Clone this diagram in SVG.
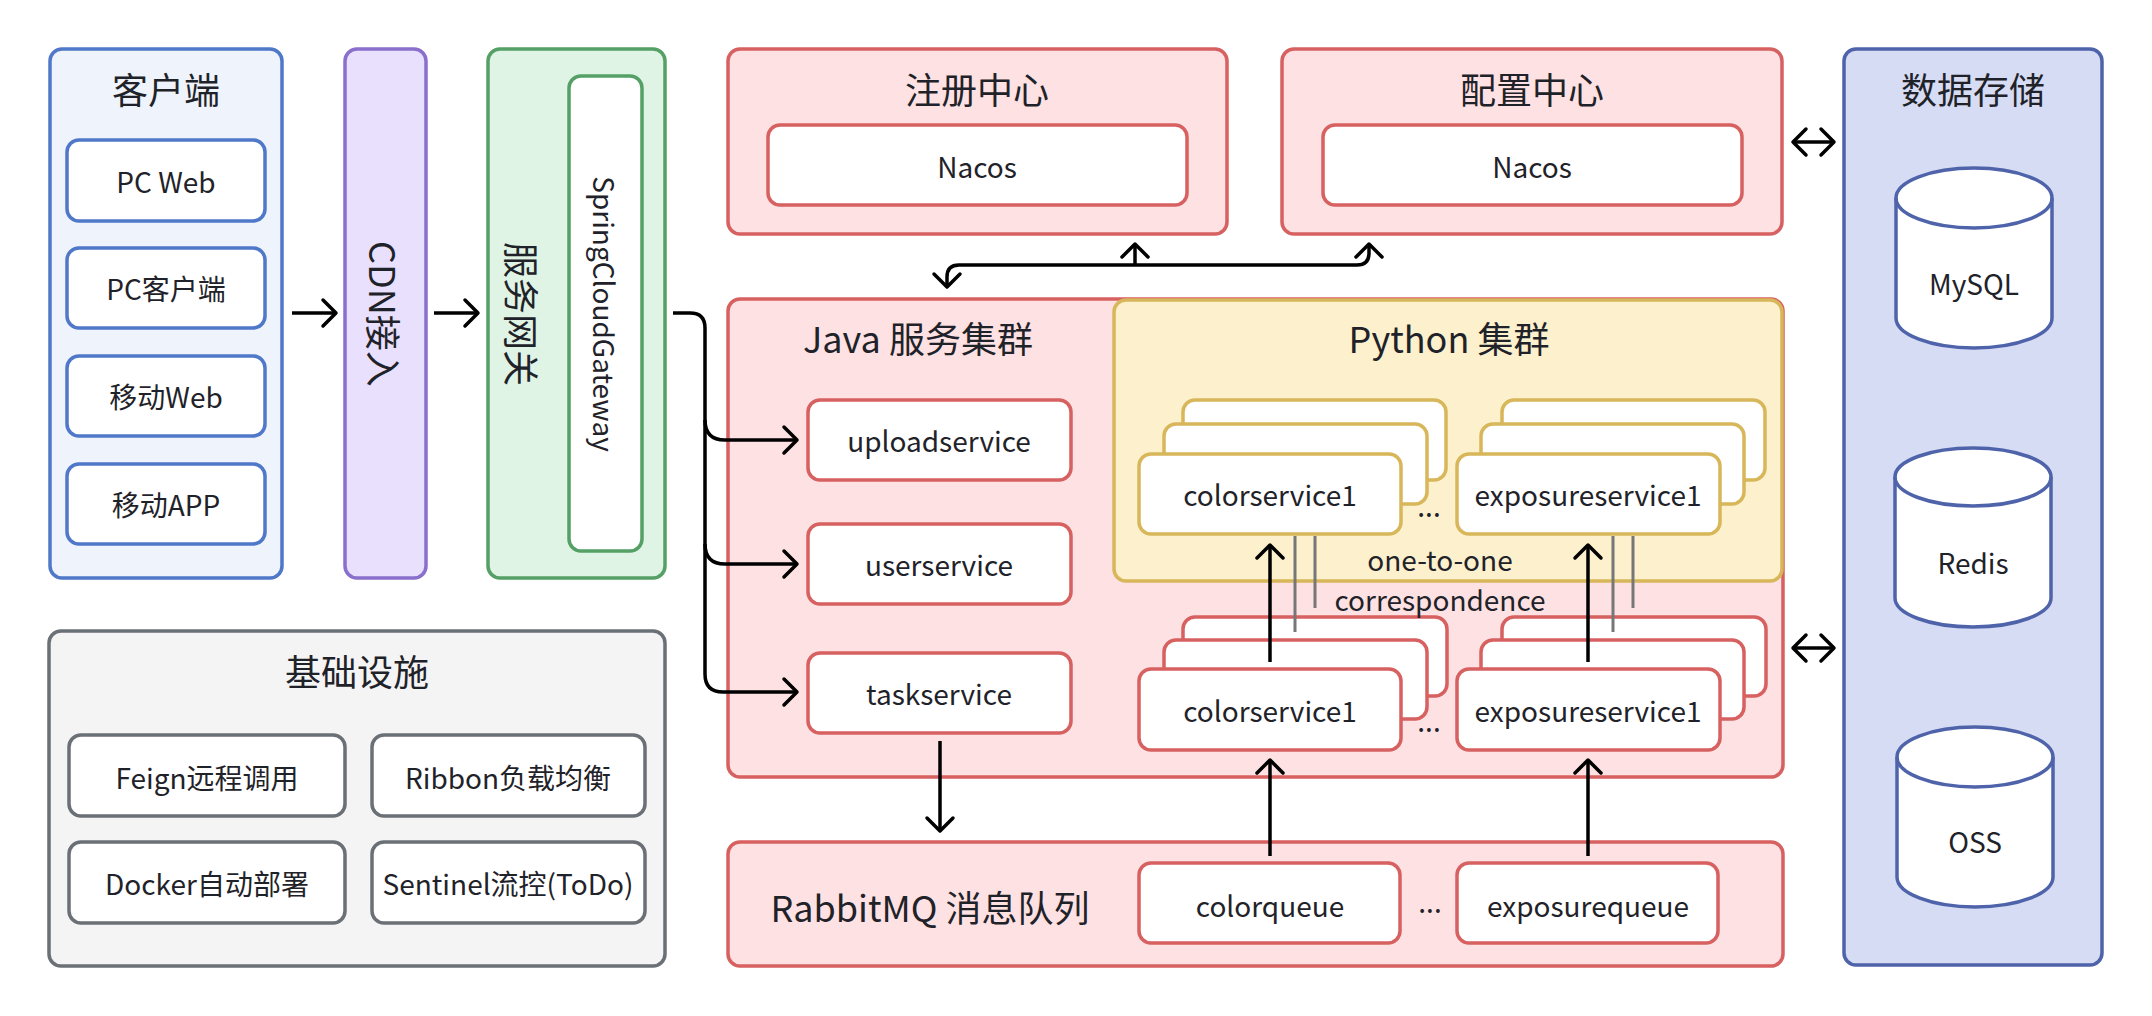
<svg xmlns="http://www.w3.org/2000/svg" width="2152" height="1016" viewBox="0 0 2152 1016">
<defs>
<style>
text{font-family:"Noto Sans CJK SC","Noto Sans",sans-serif;fill:#1f2329;text-anchor:middle;dominant-baseline:central}
.t{font-size:36px}
.n{font-size:28px}
.w{fill:#ffffff;stroke-width:3.5}
.blue{fill:#eef3fc;stroke:#5078c8;stroke-width:3.5}
.purple{fill:#e9e0fd;stroke:#8b6fcc;stroke-width:3.5}
.green{fill:#dff4e5;stroke:#55a066;stroke-width:3.5}
.red{fill:#fee1e2;stroke:#d76060;stroke-width:3.5}
.yellow{fill:#fdf0cd;stroke:#d8b65a;stroke-width:3.5}
.gray{fill:#f4f4f4;stroke:#6b6f76;stroke-width:3.5}
.db{fill:#d6dcf4;stroke:#4f63aa;stroke-width:3.5}
.bs{stroke:#5078c8}.gs{stroke:#55a066}.rs{stroke:#d76060}.ys{stroke:#d8b65a}.ks{stroke:#6b6f76}.ds{stroke:#4f63aa}
.c{fill:none;stroke:#000;stroke-width:3.5;stroke-linejoin:round}
.g{stroke:#777777;stroke-width:3;fill:none}
.dots{dominant-baseline:alphabetic;font-size:28px}
</style>
<marker id="arr" viewBox="-16 -16 20 32" markerWidth="20" markerHeight="32" refX="0" refY="0" orient="auto-start-reverse" markerUnits="userSpaceOnUse">
<path d="M-13,-13 L0,0 L-13,13" fill="none" stroke="#000" stroke-width="3.5" stroke-linecap="round" stroke-linejoin="round"/>
</marker>
</defs>
<rect width="2152" height="1016" fill="#ffffff"/>

<g id="client">
<rect class="blue" x="50" y="49" width="232" height="529" rx="12"/>
<text class="t" x="166" y="88">客户端</text>
<rect class="w bs" x="67" y="140" width="198" height="81" rx="12"/>
<text class="n" x="166" y="181">PC Web</text>
<rect class="w bs" x="67" y="248" width="198" height="80" rx="12"/>
<text class="n" x="166" y="288">PC客户端</text>
<rect class="w bs" x="67" y="356" width="198" height="80" rx="12"/>
<text class="n" x="166" y="396">移动Web</text>
<rect class="w bs" x="67" y="464" width="198" height="80" rx="12"/>
<text class="n" x="166" y="504">移动APP</text>
</g>

<g id="cdn">
<rect class="purple" x="345" y="49" width="81" height="529" rx="12"/>
<text class="t" x="385" y="314" transform="rotate(90 385 314)">CDN接入</text>
</g>

<g id="gateway">
<rect class="green" x="488" y="49" width="177" height="529" rx="12"/>
<text class="t" x="523" y="314" transform="rotate(90 523 314)">服务网关</text>
<rect class="w gs" x="569" y="76" width="73" height="475" rx="12"/>
<text class="n" x="605" y="314" transform="rotate(90 605 314)">SpringCloudGateway</text>
</g>

<g id="registry">
<rect class="red" x="728" y="49" width="499" height="185" rx="12"/>
<text class="t" x="977" y="88">注册中心</text>
<rect class="w rs" x="768" y="125" width="419" height="80" rx="12"/>
<text class="n" x="977" y="166">Nacos</text>
</g>

<g id="config">
<rect class="red" x="1282" y="49" width="500" height="185" rx="12"/>
<text class="t" x="1532" y="88">配置中心</text>
<rect class="w rs" x="1323" y="125" width="419" height="80" rx="12"/>
<text class="n" x="1532" y="166">Nacos</text>
</g>

<g id="java">
<rect class="red" x="728" y="299" width="1055" height="478" rx="12"/>
<text class="t" x="918" y="337">Java 服务集群</text>
<rect class="w rs" x="808" y="400" width="263" height="80" rx="12"/>
<text class="n" x="939" y="440">uploadservice</text>
<rect class="w rs" x="808" y="524" width="263" height="80" rx="12"/>
<text class="n" x="939" y="564">userservice</text>
<rect class="w rs" x="808" y="653" width="263" height="80" rx="12"/>
<text class="n" x="939" y="693">taskservice</text>
</g>

<g id="python">
<rect class="yellow" x="1114" y="300" width="668" height="281" rx="12"/>
<text class="t" x="1449" y="337">Python 集群</text>
<rect class="w ys" x="1183" y="400" width="263" height="80" rx="12"/>
<rect class="w ys" x="1164" y="424" width="263" height="80" rx="12"/>
<rect class="w ys" x="1139" y="454" width="262" height="80" rx="12"/>
<text class="n" x="1270" y="494">colorservice1</text>
<rect class="w ys" x="1502" y="400" width="263" height="80" rx="12"/>
<rect class="w ys" x="1481" y="424" width="263" height="80" rx="12"/>
<rect class="w ys" x="1457" y="454" width="263" height="80" rx="12"/>
<text class="n" x="1588" y="494">exposureservice1</text>
<text class="dots" x="1429" y="517">...</text>
</g>

<g id="workers">
<rect class="w rs" x="1183" y="617" width="264" height="79" rx="12"/>
<rect class="w rs" x="1164" y="640" width="263" height="79" rx="12"/>
<rect class="w rs" x="1139" y="669" width="262" height="81" rx="12"/>
<text class="n" x="1270" y="710">colorservice1</text>
<rect class="w rs" x="1502" y="617" width="264" height="79" rx="12"/>
<rect class="w rs" x="1481" y="640" width="263" height="79" rx="12"/>
<rect class="w rs" x="1457" y="669" width="263" height="81" rx="12"/>
<text class="n" x="1588" y="710">exposureservice1</text>
<text class="dots" x="1429" y="732">...</text>
</g>

<g id="rabbitmq">
<rect class="red" x="728" y="842" width="1055" height="124" rx="12"/>
<text class="t" x="930" y="906">RabbitMQ 消息队列</text>
<rect class="w rs" x="1139" y="863" width="261" height="80" rx="12"/>
<text class="n" x="1270" y="905">colorqueue</text>
<rect class="w rs" x="1457" y="863" width="261" height="80" rx="12"/>
<text class="n" x="1588" y="905">exposurequeue</text>
<text class="dots" x="1430" y="913">...</text>
</g>

<g id="infra">
<rect class="gray" x="49" y="631" width="616" height="335" rx="12"/>
<text class="t" x="357" y="670">基础设施</text>
<rect class="w ks" x="69" y="735" width="276" height="81" rx="12"/>
<text class="n" x="207" y="777">Feign远程调用</text>
<rect class="w ks" x="372" y="735" width="273" height="81" rx="12"/>
<text class="n" x="508" y="777">Ribbon负载均衡</text>
<rect class="w ks" x="69" y="842" width="276" height="81" rx="12"/>
<text class="n" x="207" y="883">Docker自动部署</text>
<rect class="w ks" x="372" y="842" width="273" height="81" rx="12"/>
<text class="n" x="508" y="883">Sentinel流控(ToDo)</text>
</g>

<g id="storage">
<rect class="db" x="1844" y="49" width="258" height="916" rx="12"/>
<text class="t" x="1973" y="88">数据存储</text>
<path class="w ds" d="M1896,198 A78,30 0 0 1 2052,198 V318 A78,30 0 0 1 1896,318 Z"/>
<path class="ds" fill="none" stroke-width="3.5" d="M1896,198 A78,30 0 0 0 2052,198"/>
<text class="n" x="1974" y="283">MySQL</text>
<path class="w ds" d="M1895,477 A78,29 0 0 1 2051,477 V598 A78,29 0 0 1 1895,598 Z"/>
<path class="ds" fill="none" stroke-width="3.5" d="M1895,477 A78,29 0 0 0 2051,477"/>
<text class="n" x="1973" y="562">Redis</text>
<path class="w ds" d="M1897,757 A78,30 0 0 1 2053,757 V877 A78,30 0 0 1 1897,877 Z"/>
<path class="ds" fill="none" stroke-width="3.5" d="M1897,757 A78,30 0 0 0 2053,757"/>
<text class="n" x="1975" y="841">OSS</text>
</g>

<g id="connectors">
<path class="c" d="M292,313 H336" marker-end="url(#arr)"/>
<path class="c" d="M434,313 H478" marker-end="url(#arr)"/>
<path class="c" d="M673,313 H690 Q705,313 705,328 V674 Q705,692 723,692 H797" marker-end="url(#arr)"/>
<path class="c" d="M705,420 Q705,440 725,440 H797" marker-end="url(#arr)"/>
<path class="c" d="M705,544 Q705,564 725,564 H797" marker-end="url(#arr)"/>
<path class="c" d="M947,287 V277 Q947,265 959,265 H1357 Q1369,265 1369,253 V244" marker-start="url(#arr)" marker-end="url(#arr)"/>
<path class="c" d="M1135,265 V244" marker-end="url(#arr)"/>
<path class="c" d="M940,741 V831" marker-end="url(#arr)"/>
<path class="c" d="M1270,662 V545" marker-end="url(#arr)"/>
<path class="c" d="M1588,662 V545" marker-end="url(#arr)"/>
<path class="c" d="M1270,856 V760" marker-end="url(#arr)"/>
<path class="c" d="M1588,856 V760" marker-end="url(#arr)"/>
<path class="c" d="M1793,142 H1834" marker-start="url(#arr)" marker-end="url(#arr)"/>
<path class="c" d="M1793,648 H1834" marker-start="url(#arr)" marker-end="url(#arr)"/>
<path class="g" d="M1295,536 V632 M1315,536 V608 M1613,536 V632 M1633,536 V608"/>
<text class="n" x="1440" y="559">one-to-one</text>
<text class="n" x="1440" y="599">correspondence</text>
</g>
</svg>
